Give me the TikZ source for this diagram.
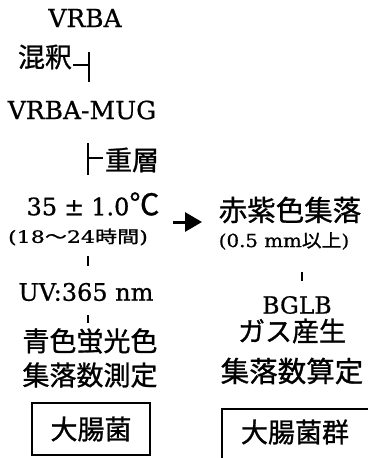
\documentclass[tikz,border=0pt]{standalone}
\usepackage{fontspec}
\setmainfont{DejaVu Serif}[FakeBold=0.7]
\newfontfamily\jp{Noto Sans CJK JP}[FakeBold=1]
\usetikzlibrary{arrows.meta}
\begin{document}
\begin{tikzpicture}[x=1pt,y=-1pt,
  every node/.style={inner sep=0pt},
  lat/.style={font=\fontsize{25}{25}\selectfont},
  cjk/.style={font=\jp\fontsize{27}{27}\selectfont},
  ln/.style={line width=1.7pt},
  tick/.style={line width=1.3pt},
  boxline/.style={line width=1.4pt}]
\useasboundingbox (0,0) rectangle (367,458);
% left column
\node[lat] (vrba) at (85,18) {VRBA};
\node[cjk] (konshaku) at (45,57) {混釈};
\coordinate (k1) at (73,65);
\coordinate (k2) at (89,65);
\coordinate (k3) at (89,52);
\coordinate (k4) at (89,82);
\draw[ln] (k1) -- (k2);
\draw[ln] (k3) -- (k4);
\node[lat] (mug) at (82,110) {VRBA-MUG};
\coordinate (j1) at (88,143);
\coordinate (j2) at (88,175);
\coordinate (j3) at (88,158);
\coordinate (j4) at (103,158);
\draw[ln] (j1) -- (j2);
\draw[ln] (j3) -- (j4);
\node[cjk] (juso) at (132,160) {重層};
\node[font=\fontsize{24}{24}\selectfont] (temp) at (93,204) {35\hspace{7pt}±\hspace{7pt}1.0{\jp\fontsize{30}{30}\selectfont ℃}};
\node (time) at (78,237) {\scalebox{1.3}[1]{\fontsize{17}{17}\selectfont (18{\jp〜}24{\jp 時間})}};
\coordinate (l1a) at (88,256);
\coordinate (l1b) at (88,266);
\draw[tick] (l1a) -- (l1b);
\node[font=\fontsize{24}{24}\selectfont] (uv) at (86,292) {UV:365 nm};
\coordinate (l2a) at (88,315);
\coordinate (l2b) at (88,323);
\draw[tick] (l2a) -- (l2b);
\node[cjk] (ao) at (90,341) {青色蛍光色};
\node[cjk] (sokutei) at (90,375) {集落数測定};
\node[cjk, draw, boxline, minimum width=118pt, minimum height=52pt] (daicho) at (91,429) {大腸菌};
% arrow
\coordinate (a1) at (173,222);
\coordinate (a2) at (202,222);
\draw[line width=3pt, -{Triangle[length=17pt,width=19pt]}] (a1) -- (a2);
% right column
\node[cjk, font=\jp\fontsize{28.5}{28.5}\selectfont] (seki) at (290,210) {赤紫色集落};
\node (size) at (284,241) {\scalebox{1.1}[1]{\fontsize{18}{18}\selectfont (0.5 mm{\jp 以上})}};
\coordinate (l3a) at (302,272);
\coordinate (l3b) at (302,281);
\draw[tick] (l3a) -- (l3b);
\node[font=\fontsize{23.5}{23.5}\selectfont] (bglb) at (297,305) {BGLB};
\node[cjk] (gas) at (292,331) {ガス産生};
\node[cjk, font=\jp\fontsize{28.5}{28.5}\selectfont] (santei) at (292,371) {集落数算定};
\coordinate (b1) at (222,409);
\coordinate (b2) at (372,465);
\draw[boxline] (b1) rectangle (b2);
\node[cjk] (gun) at (295,432) {大腸菌群};
\end{tikzpicture}
\end{document}
